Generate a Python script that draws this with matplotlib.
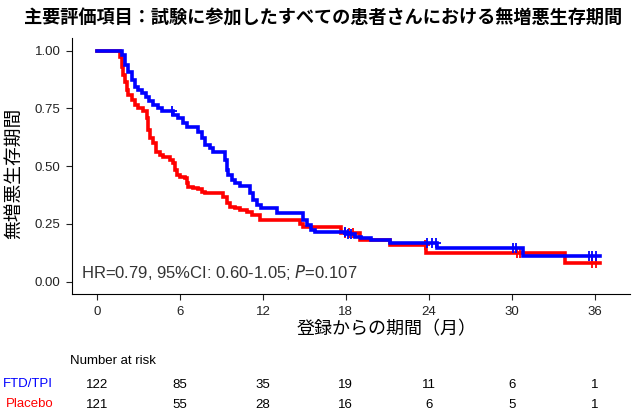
import numpy as np
import matplotlib
matplotlib.use('Agg')
import matplotlib.pyplot as plt

plt.rcParams['font.family'] = ['Liberation Sans', 'Noto Sans CJK JP', 'DejaVu Sans']

# データ
title = '主要評価項目：試験に参加したすべての患者さんにおける無増悪生存期間'
xlabel = '登録からの期間（月）'
ylabel = '無増悪生存期間'
annot = 'HR=0.79, 95%CI: 0.60-1.05; $\\it{P}$=0.107'

blue_t = [0, 1.76, 2.0, 2.25, 2.49, 2.73, 2.97, 3.21, 3.52, 3.76, 4.05, 4.42, 4.66,
          5.50, 5.86, 6.23, 6.47, 7.31, 7.55, 7.79, 8.15, 8.40, 9.24, 9.36, 9.48,
          9.72, 9.96, 10.33, 11.05, 11.29, 11.53, 11.89, 12.98, 14.91, 15.2, 15.51,
          15.8, 18.0, 18.65, 19.13, 19.85, 21.18, 24.56, 30.83, 36.37]
blue_s = [1.0, 0.981, 0.938, 0.909, 0.873, 0.844, 0.830, 0.816, 0.801, 0.784, 0.765,
          0.751, 0.740, 0.722, 0.707, 0.688, 0.671, 0.649, 0.621, 0.592, 0.577, 0.563,
          0.527, 0.484, 0.462, 0.440, 0.426, 0.414, 0.383, 0.354, 0.332, 0.318, 0.297,
          0.267, 0.245, 0.224, 0.216, 0.205, 0.195, 0.188, 0.180, 0.166, 0.144, 0.111,
          0.111]
red_t = [0, 1.64, 1.76, 1.88, 2.0, 2.13, 2.25, 2.49, 2.73, 2.97, 3.33, 3.57, 3.69,
         3.81, 4.05, 4.29, 4.54, 4.78, 5.26, 5.50, 5.62, 5.74, 5.98, 6.35, 6.47, 6.59,
         6.95, 7.31, 7.55, 7.79, 9.12, 9.36, 9.60, 9.96, 10.33, 10.81, 11.17, 11.77,
         14.67, 14.9, 17.68, 19.0, 21.18, 23.83, 33.84, 36.37]
red_s = [1.0, 0.974, 0.931, 0.895, 0.866, 0.830, 0.808, 0.787, 0.765, 0.751, 0.740,
         0.707, 0.657, 0.621, 0.599, 0.563, 0.548, 0.541, 0.527, 0.513, 0.484, 0.462,
         0.455, 0.448, 0.426, 0.411, 0.407, 0.400, 0.390, 0.383, 0.368, 0.339, 0.325,
         0.318, 0.310, 0.303, 0.289, 0.267, 0.250, 0.238, 0.210, 0.180, 0.159, 0.123,
         0.082, 0.082]
blue_cens = [5.4, 17.9, 18.15, 18.4, 23.9, 24.2, 24.5, 30.1, 30.3, 35.6, 35.85, 36.1]
red_cens = [17.95, 18.25, 18.5, 23.75, 30.4, 30.6, 35.8, 36.1]

risk_times = [0, 6, 12, 18, 24, 30, 36]
risk_blue = [122, 85, 35, 19, 11, 6, 1]
risk_red = [121, 55, 28, 16, 6, 5, 1]

BLUE = '#0000ff'
RED = '#ff0000'

fig = plt.figure(figsize=(6.4, 4.18), dpi=100)
ax = fig.add_axes([0.112, 0.297, 0.872, 0.612])

def surv_at(t, times, surv):
    i = np.searchsorted(times, t, side='right') - 1
    return np.asarray(surv)[i]

for t, s, c, cens in [(red_t, red_s, RED, red_cens), (blue_t, blue_s, BLUE, blue_cens)]:
    ax.step(t, s, where='post', color=c, lw=2.6, solid_joinstyle='miter')
    ax.plot(cens, surv_at(cens, t, s), ls='none', marker='+', ms=6.5, mew=1.3, color=c)

ax.set_xlim(-1.85, 38.55)
ax.set_ylim(-0.053, 1.055)
ax.set_xticks(risk_times)
ax.set_yticks([0, 0.25, 0.5, 0.75, 1.0])
ax.set_yticklabels(['0.00', '0.25', '0.50', '0.75', '1.00'])
for sp in ['top', 'right']:
    ax.spines[sp].set_visible(False)
ax.tick_params(labelsize=9.5, colors='#222222', length=4.5, direction='out')
ax.tick_params(axis='x', pad=4)

ax.text(-1.2, 0.04, annot, fontsize=12, color='#333333', ha='left', va='center')

ax.set_xlabel(xlabel, fontsize=13, family=['Noto Sans CJK JP'])
ax.xaxis.set_label_coords(0.565, -0.105)
ax.set_ylabel(ylabel, fontsize=13.5, family=['Noto Sans CJK JP'])
ax.yaxis.set_label_coords(-0.086, 0.47)

fig.text(0.505, 0.957, title, fontsize=13.1, fontweight='bold', ha='center', va='center',
         family=['Noto Sans CJK JP'])

# Number at risk
fig.text(70 / 640, 1 - 361 / 418, 'Number at risk', fontsize=9.5, ha='left', va='center')
fig.text(28 / 640, 1 - 384 / 418, 'FTD/TPI', fontsize=9.5, ha='center', va='center', color=BLUE)
fig.text(30 / 640, 1 - 404 / 418, 'Placebo', fontsize=9.5, ha='center', va='center', color=RED)
for t, nb, nr in zip(risk_times, risk_blue, risk_red):
    xf = ax.transData.transform((t, 0))[0] / fig.bbox.width
    fig.text(xf, 1 - 385 / 418, str(nb), fontsize=9.5, ha='center', va='center')
    fig.text(xf, 1 - 405 / 418, str(nr), fontsize=9.5, ha='center', va='center')

fig.savefig('out.png', dpi=100)
